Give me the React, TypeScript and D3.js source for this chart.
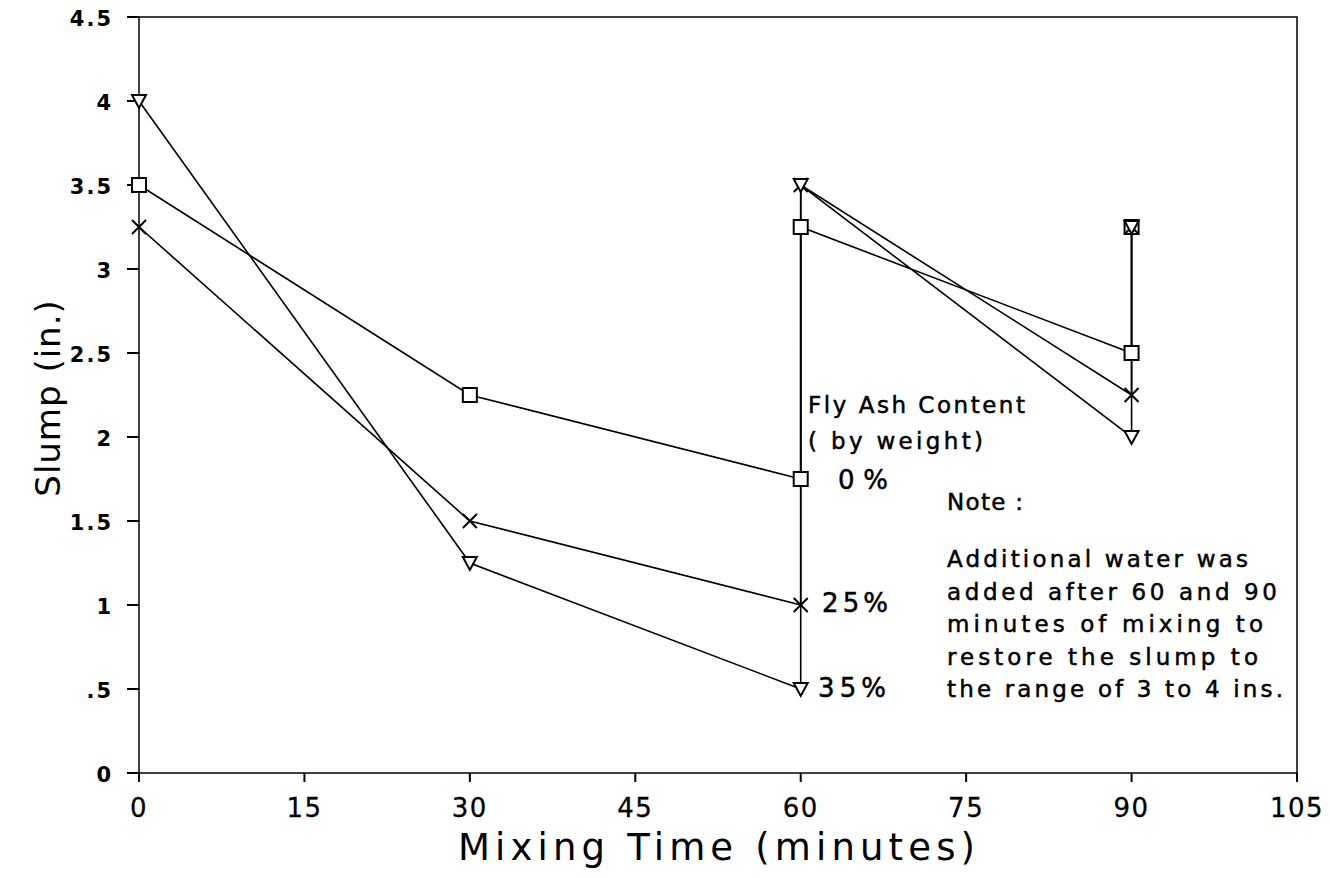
import React from "react";
import * as d3 from "d3";

const times = [0, 30, 60, 60, 90, 90];
const slump0 = [3.5, 2.25, 1.75, 3.25, 2.5, 3.25];
const slump25 = [3.25, 1.5, 1.0, 3.5, 2.25, 3.25];
const slump35 = [4.0, 1.25, 0.5, 3.5, 2.0, 3.25];
const xTicks = [0, 15, 30, 45, 60, 75, 90, 105];
const yTicks = [0, 0.5, 1, 1.5, 2, 2.5, 3, 3.5, 4, 4.5];
const yTickLabels = ["0", ".5", "1", "1.5", "2", "2.5", "3", "3.5", "4", "4.5"];
const seriesLabels = ["0%", "25%", "35%"];
const noteLines = [
  "Additional water was",
  "added after 60 and 90",
  "minutes of mixing to",
  "restore the slump to",
  "the range of 3 to 4 ins.",
];

const W = 1330;
const H = 878;
const FONT = "'DejaVu Sans', 'Liberation Sans', sans-serif";

export default function App() {
  const x = d3.scaleLinear().domain([0, 105]).range([139, 1297]);
  const y = d3.scaleLinear().domain([0, 4.5]).range([773, 17]);
  const line = d3
    .line<[number, number]>()
    .x((d) => x(d[0]))
    .y((d) => y(d[1]));

  const series = [
    { vals: slump0, marker: "square" },
    { vals: slump25, marker: "x" },
    { vals: slump35, marker: "tri" },
  ];

  const marker = (type: string, cx: number, cy: number, k: string) => {
    const s = 7;
    if (type === "square")
      return (
        <rect key={k} x={cx - s} y={cy - s} width={2 * s} height={2 * s} fill="white" stroke="black" strokeWidth={2} />
      );
    if (type === "x")
      return (
        <path key={k} d={`M${cx - s},${cy - s}L${cx + s},${cy + s}M${cx - s},${cy + s}L${cx + s},${cy - s}`} stroke="black" strokeWidth={2} fill="none" />
      );
    return (
      <path key={k} d={`M${cx - s},${cy - s + 1}L${cx + s},${cy - s + 1}L${cx},${cy + s}Z`} fill="white" stroke="black" strokeWidth={2} />
    );
  };

  const textStyle = { stroke: "black", strokeWidth: 0.5 };

  return (
    <svg
      width={W}
      height={H}
      style={{ position: "absolute", left: 0, top: 0, background: "white" }}
      fontFamily={FONT}
    >
      <rect x={0} y={0} width={W} height={H} fill="white" />
      {/* frame */}
      <rect x={x(0)} y={y(4.5)} width={x(105) - x(0)} height={y(0) - y(4.5)} fill="none" stroke="black" strokeWidth={1.5} />
      {/* x ticks */}
      {xTicks.map((t) => (
        <g key={"xt" + t}>
          <line x1={x(t)} x2={x(t)} y1={y(0)} y2={y(0) + 9} stroke="black" strokeWidth={2} />
          <text x={x(t)} y={817} textAnchor="middle" fontSize={26} letterSpacing={1.5} style={{ stroke: "black", strokeWidth: 0.3 }}>
            {t}
          </text>
        </g>
      ))}
      {/* y ticks */}
      {yTicks.map((t, i) => (
        <g key={"yt" + t}>
          <line x1={x(0) - 12} x2={x(0)} y1={y(t)} y2={y(t)} stroke="black" strokeWidth={2} />
          <text x={x(0) - 26} y={y(t) + 9} textAnchor="end" fontSize={21} fontWeight="bold" letterSpacing={2}>
            {yTickLabels[i]}
          </text>
        </g>
      ))}
      {/* axis titles */}
      <text x={458} y={860} fontSize={37} textLength={517} lengthAdjust="spacing">
        Mixing Time (minutes)
      </text>
      <text transform={`translate(60,398) rotate(-90)`} textAnchor="middle" fontSize={34} letterSpacing={1}>
        Slump (in.)
      </text>
      {/* series */}
      {series.map((s, si) => (
        <path
          key={"l" + si}
          d={line(times.map((t, i) => [t, s.vals[i]] as [number, number])) || ""}
          fill="none"
          stroke="black"
          strokeWidth={1.6}
        />
      ))}
      {series.map((s, si) => (
        <g key={"m" + si}>{times.map((t, i) => marker(s.marker, x(t), y(s.vals[i]), `${si}-${i}`))}</g>
      ))}
      {/* legend-ish labels */}
      <text x={808} y={413} fontSize={23} textLength={217} lengthAdjust="spacing" style={textStyle}>
        Fly Ash Content
      </text>
      <text x={808} y={449} fontSize={23} textLength={175} lengthAdjust="spacing" style={textStyle}>
        ( by weight)
      </text>
      <text x={838} y={489} fontSize={26} textLength={50} lengthAdjust="spacing" style={textStyle}>
        {seriesLabels[0]}
      </text>
      <text x={822} y={612} fontSize={26} textLength={66} lengthAdjust="spacing" style={textStyle}>
        {seriesLabels[1]}
      </text>
      <text x={818} y={697} fontSize={26} textLength={68} lengthAdjust="spacing" style={textStyle}>
        {seriesLabels[2]}
      </text>
      <text x={947} y={510} fontSize={23} textLength={76} lengthAdjust="spacing" style={textStyle}>
        Note :
      </text>
      {noteLines.map((l, i) => (
        <text
          key={"n" + i}
          x={947}
          y={567 + i * 32.5}
          fontSize={23}
          textLength={[301, 330, 316, 311, 336][i]}
          lengthAdjust="spacing"
          style={textStyle}
        >
          {l}
        </text>
      ))}
    </svg>
  );
}
